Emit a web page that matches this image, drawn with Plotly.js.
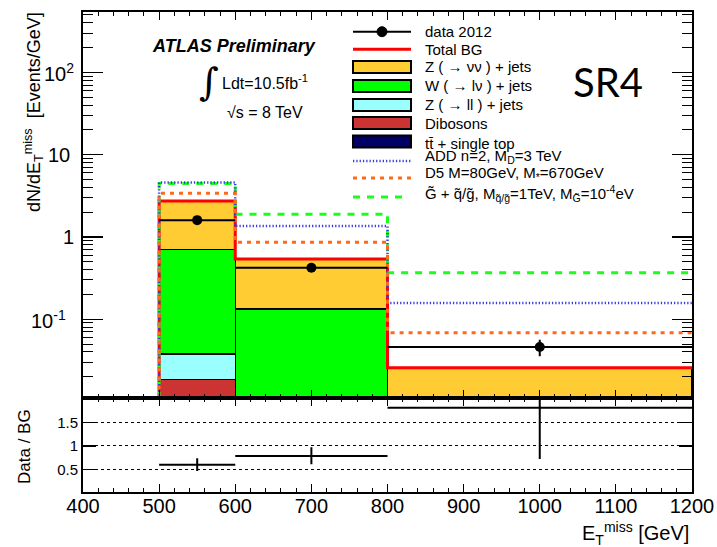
<!DOCTYPE html>
<html><head><meta charset="utf-8">
<script src="https://cdn.plot.ly/plotly-3.0.1.min.js"></script>
<style>body{margin:0;background:#fff}#plot{width:717px;height:547px}</style>
</head><body><div id="plot"></div>
<script>
// ---- data ----
const binEdges   = [500, 600, 800, 1200];
const binCenters = [550, 700, 1000];
const binWidths  = [100, 200, 400];
const ttbar    = [0.002, 0.001, 0.0005];
const dibosons = [0.0166, 0.004, 0.001];
const zll      = [0.0192, 0.005, 0.001];
const wlnu     = [0.669, 0.123, 0.009];
const znunu    = [2.02, 0.406, 0.0143];
const dataVals = [1.60, 0.422, 0.0459];
const dataErr  = [0.12, 0.046, 0.0105];
const addVals  = [4.6, 1.36, 0.158];
const d5Vals   = [3.39, 0.86, 0.0686];
const gravVals = [4.45, 1.88, 0.367];
const ratioVals  = [0.599, 0.785, 1.82];
const ratioErrLo = [0.136, 0.178, 1.10];
const ratioErrHi = [0.137, 0.187, 1.5];
const yTickVals = [0.1, 1, 10, 100];
const yTickText = ['10<sup>-1</sup>', '1', '10', '10<sup>2</sup>'];
const rTickVals = [0.5, 1, 1.5];
const rTickText = ['0.5', '1', '1.5'];

const legendLabels = ['data 2012', 'Total BG', 'Z ( \u2192 \u03bd\u03bd ) + jets', 'W ( \u2192 l\u03bd ) + jets',
  'Z ( \u2192 ll ) + jets', 'Dibosons', 'tt\u0304 + single top', 'ADD n=2, M<sub>D</sub>=3 TeV',
  'D5 M=80GeV, M<sub>*</sub>=670GeV',
  'G\u0303 + q\u0303/g\u0303, M<sub>q\u0303/g\u0303</sub>=1TeV, M<sub>G\u0303</sub>=10<sup>-4</sup>eV'];

const colors = {znunu:'#ffcc33', wlnu:'#00ff00', zll:'#99ffff', dib:'#cc3333', tt:'#000066',
  add:'#3c3cdc', d5:'#ff6a1a', grav:'#1aff1a', total:'#ff0000'};

// ---- geometry ----
const yRange = [-1.962, 2.733];
const yFloor = Math.pow(10, yRange[0]);
const total = binCenters.map((_, i) => ttbar[i] + dibosons[i] + zll[i] + wlnu[i] + znunu[i]);

function stepX(){ return [binEdges[0]].concat(binEdges); }
function stepY(v){ return [yFloor].concat(v, [v[v.length-1]]); }

const traces = [];
function bar(vals, color){
  traces.push({type:'bar', x:binCenters, y:vals, width:binWidths, xaxis:'x', yaxis:'y',
    marker:{color:color, line:{color:'black', width:1.5}}, hoverinfo:'skip'});
}
bar(ttbar, colors.tt); bar(dibosons, colors.dib); bar(zll, colors.zll); bar(wlnu, colors.wlnu); bar(znunu, colors.znunu);

traces.push({type:'scatter', mode:'lines', x:[400].concat(binEdges), y:[yFloor].concat(total, [total[total.length-1]]),
  line:{shape:'hv', color:colors.total, width:3}, xaxis:'x', yaxis:'y'});
traces.push({type:'scatter', mode:'lines', x:stepX(), y:stepY(gravVals),
  line:{shape:'hv', color:colors.grav, width:3, dash:'7px,7px'}, xaxis:'x', yaxis:'y'});
traces.push({type:'scatter', mode:'lines', x:stepX(), y:stepY(addVals),
  line:{shape:'hv', color:colors.add, width:2.5, dash:'1.3px,2px'}, xaxis:'x', yaxis:'y'});
traces.push({type:'scatter', mode:'lines', x:stepX(), y:stepY(d5Vals),
  line:{shape:'hv', color:colors.d5, width:3, dash:'4px,5px'}, xaxis:'x', yaxis:'y'});

traces.push({type:'scatter', mode:'markers', x:binCenters, y:dataVals, xaxis:'x', yaxis:'y',
  marker:{color:'black', size:10},
  error_x:{type:'data', array:binWidths.map(w => w/2), color:'black', thickness:2, width:0},
  error_y:{type:'data', array:dataErr, color:'black', thickness:2, width:0}});

traces.push({type:'scatter', mode:'markers', x:binCenters, y:ratioVals, xaxis:'x2', yaxis:'y2',
  marker:{color:'black', size:2},
  error_x:{type:'data', array:binWidths.map(w => w/2), color:'black', thickness:2, width:0},
  error_y:{type:'data', array:ratioErrHi, arrayminus:ratioErrLo, color:'black', thickness:2, width:0}});

// minor log ticks
const minorLog = [];
for (let e = -2; e <= 2; e++) for (let d = 2; d <= 9; d++) minorLog.push(d * Math.pow(10, e));

// pixel -> paper helpers
const L = 83, R = 692, T = 12, B = 492;
const px = p => (p - L) / (R - L);
const py = p => (B - p) / (B - T);

const shapes = [], annotations = [];
const lx0 = 353, lx1 = 411, tx = 423;
const rows = [31.7, 49.3, 67, 86, 105, 123, 141.5, 161, 178, 197];
const textRows = [31.7, 49.3, 66.7, 85, 104, 123.3, 143, 156, 173, 193];
shapes.push({type:'line', xref:'paper', yref:'paper', x0:px(lx0), x1:px(lx1), y0:py(rows[0]), y1:py(rows[0]), line:{color:'black', width:2}});
shapes.push({type:'circle', xref:'paper', yref:'paper', x0:px(382-5), x1:px(382+5), y0:py(rows[0]-5), y1:py(rows[0]+5), fillcolor:'black', line:{color:'black', width:1}});
shapes.push({type:'line', xref:'paper', yref:'paper', x0:px(lx0), x1:px(lx1), y0:py(rows[1]), y1:py(rows[1]), line:{color:colors.total, width:3}});
const boxCols = [colors.znunu, colors.wlnu, colors.zll, colors.dib, colors.tt];
boxCols.forEach((c, i) => {
  const yc = rows[2 + i];
  shapes.push({type:'rect', xref:'paper', yref:'paper', x0:px(lx0), x1:px(lx1), y0:py(yc-6), y1:py(yc+6), fillcolor:c, line:{color:'black', width:2}});
});
shapes.push({type:'line', xref:'paper', yref:'paper', x0:px(lx0), x1:px(lx1), y0:py(rows[7]), y1:py(rows[7]), line:{color:colors.add, width:2.5, dash:'1.3px,2px'}});
shapes.push({type:'line', xref:'paper', yref:'paper', x0:px(lx0), x1:px(lx1), y0:py(rows[8]), y1:py(rows[8]), line:{color:colors.d5, width:3, dash:'4px,5px'}});
shapes.push({type:'line', xref:'paper', yref:'paper', x0:px(lx0), x1:px(lx1-4), y0:py(rows[9]), y1:py(rows[9]), line:{color:colors.grav, width:3, dash:'7px,7px'}});
legendLabels.forEach((t, i) => {
  annotations.push({xref:'paper', yref:'paper', x:px(tx), y:py(textRows[i]), xanchor:'left', yanchor:'middle',
    text:t, showarrow:false, font:{size:15, color:'black'}});
});

// main y tick labels, placed at the axis values
const yLabelRight = [68, 76, 72, 76];
yTickVals.forEach((v, i) => {
  annotations.push({xref:'paper', yref:'y', x:px(yLabelRight[i]), y:Math.log10(v), xanchor:'right', yanchor:'middle',
    text:yTickText[i], showarrow:false, font:{size:20}});
});

annotations.push({xref:'paper', yref:'paper', x:px(234), y:py(46), xanchor:'center', yanchor:'middle',
  text:'<b><i>ATLAS Preliminary</i></b>', showarrow:false, font:{size:18}});
annotations.push({xref:'paper', yref:'paper', x:px(209), y:py(82), xanchor:'center', yanchor:'middle',
  text:'\u222b', showarrow:false, font:{size:38, family:'DejaVu Serif, serif'}});
annotations.push({xref:'paper', yref:'paper', x:px(220), y:py(82), xanchor:'left', yanchor:'middle',
  text:'Ldt=10.5fb<sup>-1</sup>', showarrow:false, font:{size:16}});
annotations.push({xref:'paper', yref:'paper', x:px(225), y:py(112), xanchor:'left', yanchor:'middle',
  text:'\u221as = 8 TeV', showarrow:false, font:{size:16}});
annotations.push({xref:'paper', yref:'paper', x:px(608), y:py(82), xanchor:'center', yanchor:'middle',
  text:'SR4', showarrow:false, font:{size:40, family:'Lato, Open Sans, sans-serif'}});
annotations.push({xref:'paper', yref:'paper', x:px(33), y:py(112), xanchor:'center', yanchor:'middle', textangle:-90,
  text:'dN/dE<sub>T</sub><sup>miss</sup>\u00a0\u00a0[Events/GeV]', showarrow:false, font:{size:18}});
annotations.push({xref:'paper', yref:'paper', x:px(24), y:py(446), xanchor:'center', yanchor:'middle', textangle:-90,
  text:'Data / BG', showarrow:false, font:{size:17}});
annotations.push({xref:'paper', yref:'paper', x:px(691), y:py(533), xanchor:'right', yanchor:'middle',
  text:'E<sub>T</sub><sup>miss</sup> [GeV]', showarrow:false, font:{size:20}});

const xCommon = {range:[400,1200], tick0:400, dtick:100, ticks:'inside', ticklen:8, tickwidth:1.2, tickcolor:'black',
  showline:true, linewidth:2, linecolor:'black', mirror:'ticks', showgrid:false, zeroline:false,
  minor:{ticks:'inside', dtick:20, ticklen:4, tickwidth:1, tickcolor:'black', showgrid:false}};

const layout = {
  width:717, height:547,
  margin:{l:L, r:717-R, t:T, b:547-B},
  paper_bgcolor:'white', plot_bgcolor:'white',
  showlegend:false, barmode:'stack', bargap:0,
  font:{family:'Liberation Sans, Arial, sans-serif', color:'black'},
  xaxis:Object.assign({}, xCommon, {anchor:'y', showticklabels:false}),
  xaxis2:Object.assign({}, xCommon, {anchor:'y2', showticklabels:true, tickfont:{size:20}, ticklabelstandoff:-5}),
  yaxis:{type:'log', domain:[0.195,1], range:yRange, anchor:'x', tickmode:'array', tickvals:yTickVals,
    showticklabels:false,
    ticks:'inside', ticklen:20, tickwidth:1.2, tickcolor:'black',
    showline:true, linewidth:2, linecolor:'black', mirror:'ticks', showgrid:false, zeroline:false,
    minor:{tickmode:'array', tickvals:minorLog, ticks:'inside', ticklen:10, tickwidth:1, tickcolor:'black', showgrid:false}},
  yaxis2:{domain:[0,0.195], range:[0.013,2.02], anchor:'x2', tickmode:'array', tickvals:rTickVals, ticktext:rTickText,
    ticks:'inside', ticklen:13, tickwidth:1.2, tickcolor:'black', tickfont:{size:15},
    showline:true, linewidth:2, linecolor:'black', mirror:'ticks', showgrid:true, gridcolor:'black', gridwidth:1, griddash:'dot', zeroline:false},
  shapes:shapes, annotations:annotations
};

Plotly.newPlot('plot', traces, layout, {staticPlot:true, displayModeBar:false});
</script></body></html>
